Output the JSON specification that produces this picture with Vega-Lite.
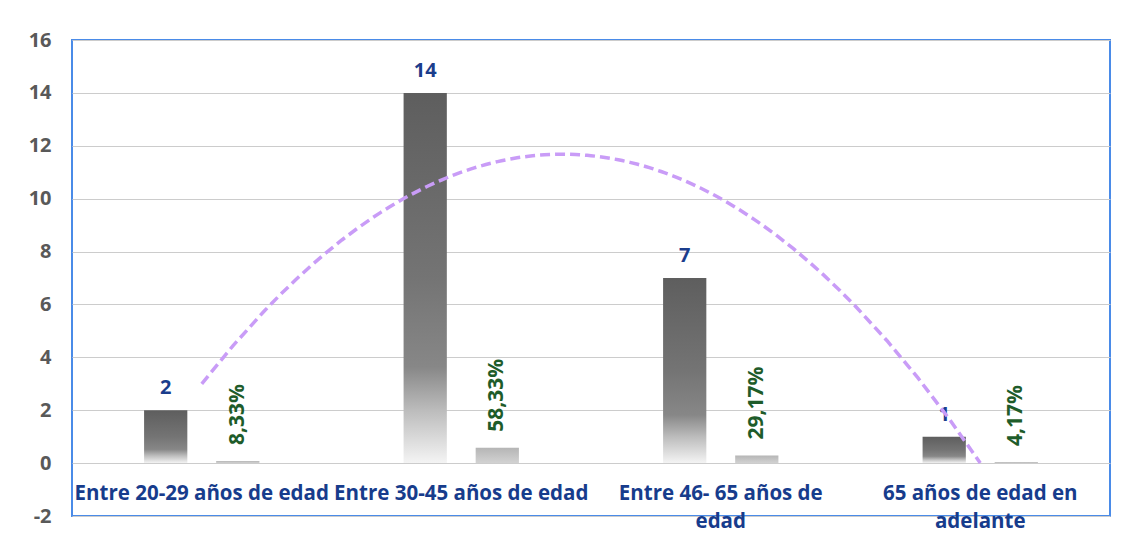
{
  "$schema": "https://vega.github.io/schema/vega-lite/v6.json",
  "autosize": "none",
  "width": 1038,
  "height": 476,
  "padding": {"left": 72, "top": 40, "right": 16, "bottom": 27},
  "background": "#ffffff",
  "config": {
    "view": {"stroke": "#4a8be8", "strokeWidth": 2},
    "font": "Open Sans"
  },
  "data": {
    "values": [
      {"cat": "Entre 20-29 años de edad", "idx": 1, "count": 2, "pct": 0.0833, "pctLabel": "8,33%"},
      {"cat": "Entre 30-45 años de edad", "idx": 2, "count": 14, "pct": 0.5833, "pctLabel": "58,33%"},
      {"cat": "Entre 46- 65 años de edad", "idx": 3, "count": 7, "pct": 0.2917, "pctLabel": "29,17%"},
      {"cat": "65 años de edad en adelante", "idx": 4, "count": 1, "pct": 0.0417, "pctLabel": "4,17%"}
    ]
  },
  "layer": [
    {
      "transform": [{"fold": ["count", "pct"], "as": ["series", "value"]}],
      "encoding": {
        "x": {
          "field": "cat",
          "type": "nominal",
          "sort": ["Entre 20-29 años de edad", "Entre 30-45 años de edad", "Entre 46- 65 años de edad", "65 años de edad en adelante"],
          "scale": {"paddingInner": 0, "paddingOuter": 0},
          "axis": {
            "title": null,
            "orient": "bottom",
            "offset": -52.9,
            "domain": false,
            "ticks": false,
            "labelAngle": 0,
            "labelFont": "Open Sans",
            "labelFontWeight": "bold",
            "labelFontSize": 20.5,
            "labelColor": "#173c8c",
            "labelPadding": 20,
            "labelLimit": 400,
            "labelLineHeight": 28,
            "labelBaseline": "top",
            "labelExpr": "datum.label == 'Entre 46- 65 años de edad' ? ['Entre 46- 65 años de', 'edad'] : datum.label == '65 años de edad en adelante' ? ['65 años de edad en', 'adelante'] : datum.label"
          }
        },
        "xOffset": {
          "field": "series",
          "type": "nominal",
          "scale": {"domain": ["count", "pct"], "paddingInner": 0.4, "paddingOuter": 1.054}
        },
        "y": {
          "field": "value",
          "type": "quantitative",
          "scale": {"domain": [-2, 16], "nice": false, "zero": false},
          "axis": {
            "title": null,
            "values": [-2, 0, 2, 4, 6, 8, 10, 12, 14, 16],
            "labelExpr": "'' + datum.value",
            "grid": true,
            "gridColor": "#cccccc",
            "gridWidth": 1.2,
            "domain": false,
            "ticks": false,
            "labelFont": "Open Sans",
            "labelFontWeight": "bold",
            "labelFontSize": 20,
            "labelColor": "#595959",
            "labelPadding": 21
          }
        }
      },
      "layer": [
        {
          "transform": [{"filter": "datum.series == 'count'"}],
          "mark": {
            "type": "bar",
            "color": {
              "gradient": "linear", "x1": 0, "y1": 0, "x2": 0, "y2": 1,
              "stops": [
                {"offset": 0, "color": "#5e5e5e"},
                {"offset": 0.5, "color": "#747474"},
                {"offset": 0.74, "color": "#878787"},
                {"offset": 0.86, "color": "#bdbdbd"},
                {"offset": 1, "color": "#f4f4f4"}
              ]
            }
          }
        },
        {
          "transform": [{"filter": "datum.series == 'pct'"}],
          "mark": {
            "type": "bar",
            "color": {
              "gradient": "linear", "x1": 0, "y1": 0, "x2": 0, "y2": 1,
              "stops": [
                {"offset": 0, "color": "#b5b5b5"},
                {"offset": 1, "color": "#d2d2d2"}
              ]
            }
          }
        },
        {
          "transform": [{"filter": "datum.series == 'count'"}],
          "mark": {
            "type": "text",
            "font": "Open Sans",
            "fontWeight": "bold",
            "fontSize": 20,
            "color": "#1b3d8c",
            "baseline": "alphabetic",
            "dy": -16
          },
          "encoding": {"text": {"field": "value", "type": "quantitative"}}
        },
        {
          "transform": [{"filter": "datum.series == 'pct'"}],
          "mark": {
            "type": "text",
            "font": "Open Sans",
            "fontWeight": "bold",
            "fontSize": 21,
            "color": "#1e5c2a",
            "angle": 270,
            "align": "left",
            "baseline": "middle",
            "dx": 16
          },
          "encoding": {"text": {"field": "pctLabel", "type": "nominal"}}
        }
      ]
    },
    {
      "transform": [
        {"regression": "count", "on": "idx", "method": "poly", "order": 2}
      ],
      "mark": {"type": "line", "color": "#c99cf7", "strokeWidth": 3.5, "strokeDash": [10, 5]},
      "encoding": {
        "x": {"field": "idx", "type": "quantitative", "scale": {"domain": [0.5, 4.5], "nice": false, "zero": false}, "axis": null},
        "y": {"field": "count", "type": "quantitative"}
      }
    }
  ],
  "resolve": {"scale": {"x": "independent"}}
}
